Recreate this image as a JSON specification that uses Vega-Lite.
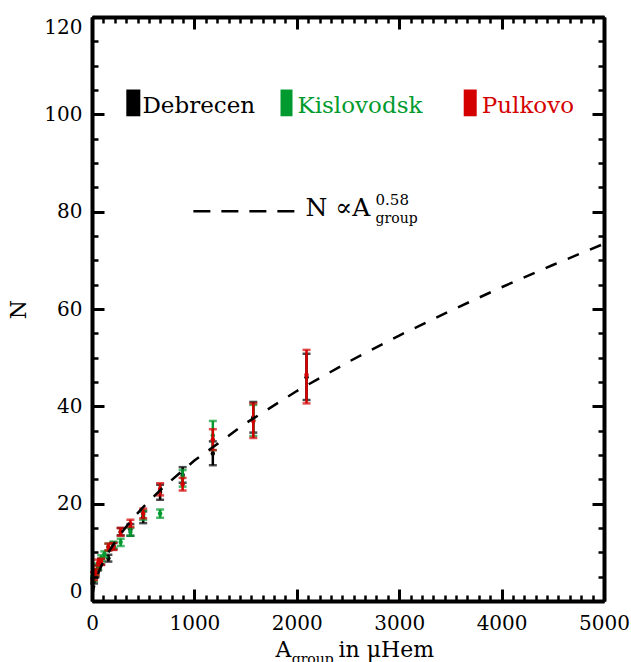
{
  "$schema": "https://vega.github.io/schema/vega-lite/v6.json",
  "width": 512,
  "height": 584,
  "autosize": {"type": "none"},
  "padding": {"left": 92, "top": 17, "right": 27, "bottom": 61},
  "background": "white",
  "config": {"view": {"stroke": null}, "font": "DejaVu Serif"},
  "datasets": {
    "obs": [
      {"station": "Debrecen", "A": 20, "N": 4.1, "lo": 3.6, "hi": 4.7},
      {"station": "Debrecen", "A": 35, "N": 5.5, "lo": 4.9, "hi": 6.1},
      {"station": "Debrecen", "A": 60, "N": 6.8, "lo": 6.3, "hi": 7.4},
      {"station": "Debrecen", "A": 90, "N": 8.1, "lo": 7.5, "hi": 8.7},
      {"station": "Debrecen", "A": 160, "N": 8.8, "lo": 8.1, "hi": 9.5},
      {"station": "Debrecen", "A": 210, "N": 11.3, "lo": 10.6, "hi": 12.0},
      {"station": "Debrecen", "A": 280, "N": 14.2, "lo": 13.5, "hi": 15.0},
      {"station": "Debrecen", "A": 375, "N": 14.7, "lo": 13.4, "hi": 15.8},
      {"station": "Debrecen", "A": 500, "N": 17.2, "lo": 16.0, "hi": 18.4},
      {"station": "Debrecen", "A": 665, "N": 22.4, "lo": 20.8, "hi": 23.9},
      {"station": "Debrecen", "A": 885, "N": 25.9, "lo": 24.3, "hi": 27.5},
      {"station": "Debrecen", "A": 1180, "N": 30.3, "lo": 27.9, "hi": 32.8},
      {"station": "Debrecen", "A": 1575, "N": 37.7, "lo": 34.6, "hi": 40.9},
      {"station": "Debrecen", "A": 2095, "N": 46.0, "lo": 41.3, "hi": 50.8},
      {"station": "Kislovodsk", "A": 20, "N": 4.6, "lo": 4.1, "hi": 5.1},
      {"station": "Kislovodsk", "A": 35, "N": 5.9, "lo": 5.4, "hi": 6.5},
      {"station": "Kislovodsk", "A": 60, "N": 7.1, "lo": 6.5, "hi": 7.7},
      {"station": "Kislovodsk", "A": 90, "N": 8.8, "lo": 8.2, "hi": 9.4},
      {"station": "Kislovodsk", "A": 120, "N": 9.6, "lo": 9.0, "hi": 10.2},
      {"station": "Kislovodsk", "A": 160, "N": 11.1, "lo": 10.4, "hi": 11.8},
      {"station": "Kislovodsk", "A": 210, "N": 11.5, "lo": 10.9, "hi": 12.2},
      {"station": "Kislovodsk", "A": 280, "N": 12.1, "lo": 11.3, "hi": 12.8},
      {"station": "Kislovodsk", "A": 375, "N": 14.2, "lo": 13.4, "hi": 15.0},
      {"station": "Kislovodsk", "A": 500, "N": 17.7, "lo": 16.7, "hi": 18.6},
      {"station": "Kislovodsk", "A": 665, "N": 18.0, "lo": 17.1, "hi": 18.8},
      {"station": "Kislovodsk", "A": 885, "N": 25.3, "lo": 23.5, "hi": 26.9},
      {"station": "Kislovodsk", "A": 1180, "N": 34.0, "lo": 31.0, "hi": 37.0},
      {"station": "Kislovodsk", "A": 1575, "N": 37.1, "lo": 33.9, "hi": 40.3},
      {"station": "Pulkovo", "A": 20, "N": 5.1, "lo": 4.3, "hi": 5.9},
      {"station": "Pulkovo", "A": 35, "N": 5.9, "lo": 5.3, "hi": 6.6},
      {"station": "Pulkovo", "A": 60, "N": 7.8, "lo": 7.2, "hi": 8.5},
      {"station": "Pulkovo", "A": 90, "N": 8.1, "lo": 7.4, "hi": 8.7},
      {"station": "Pulkovo", "A": 160, "N": 11.1, "lo": 10.4, "hi": 11.8},
      {"station": "Pulkovo", "A": 210, "N": 11.2, "lo": 10.5, "hi": 11.9},
      {"station": "Pulkovo", "A": 280, "N": 14.2, "lo": 13.4, "hi": 15.0},
      {"station": "Pulkovo", "A": 375, "N": 15.9, "lo": 15.2, "hi": 16.7},
      {"station": "Pulkovo", "A": 500, "N": 18.0, "lo": 17.0, "hi": 19.0},
      {"station": "Pulkovo", "A": 665, "N": 23.0, "lo": 21.7, "hi": 24.2},
      {"station": "Pulkovo", "A": 885, "N": 24.0, "lo": 22.7, "hi": 25.3},
      {"station": "Pulkovo", "A": 1180, "N": 33.2, "lo": 31.0, "hi": 35.3},
      {"station": "Pulkovo", "A": 1575, "N": 37.0, "lo": 33.5, "hi": 40.6},
      {"station": "Pulkovo", "A": 2095, "N": 46.5, "lo": 40.6, "hi": 51.6}
    ],
    "fit": [
      {"A": 2, "N": 0.785}, {"A": 5, "N": 1.335}, {"A": 10, "N": 1.996},
      {"A": 20, "N": 2.984}, {"A": 35, "N": 4.128}, {"A": 50, "N": 5.077},
      {"A": 75, "N": 6.42}, {"A": 100, "N": 7.586}, {"A": 150, "N": 9.6},
      {"A": 200, "N": 11.34}, {"A": 300, "N": 14.35}, {"A": 400, "N": 16.96},
      {"A": 500, "N": 19.31}, {"A": 700, "N": 23.46}, {"A": 1000, "N": 28.85},
      {"A": 1500, "N": 36.5}, {"A": 2000, "N": 43.14}, {"A": 2500, "N": 49.09},
      {"A": 3000, "N": 54.55}, {"A": 3500, "N": 59.64}, {"A": 4000, "N": 64.47},
      {"A": 4500, "N": 69.04}, {"A": 5000, "N": 73.4}
    ],
    "one": [{}]
  },
  "data": {"name": "obs"},
  "resolve": {"axis": {"x": "independent", "y": "independent"}},
  "layer": [
    {
      "transform": [{"filter": "datum.station === 'Debrecen'"}],
      "mark": {"type": "rule", "color": "black", "strokeWidth": 2.5},
      "encoding": {
        "x": {"field": "A", "type": "quantitative", "scale": {"domain": [0, 5000], "nice": false, "zero": false},
          "axis": {"orient": "bottom", "values": [0, 1000, 2000, 3000, 4000, 5000], "format": "d", "tickSize": -12, "tickWidth": 3, "tickColor": "black", "domain": true, "domainWidth": 4, "domainColor": "black", "labelFont": "DejaVu Serif", "labelFontSize": 20, "labelColor": "black", "labelPadding": 24, "labelFlush": false, "labelOverlap": false, "grid": false, "title": null, "zindex": 1}},
        "y": {"field": "lo", "type": "quantitative", "scale": {"domain": [0, 120], "nice": false, "zero": false},
          "axis": {"orient": "left", "values": [0, 20, 40, 60, 80, 100, 120], "format": "d", "tickSize": -12, "tickWidth": 3, "tickColor": "black", "domain": true, "domainWidth": 4, "domainColor": "black", "labelFont": "DejaVu Serif", "labelFontSize": 20, "labelColor": "black", "labelPadding": 22, "labelFlush": true, "labelOverlap": false, "grid": false, "title": "N", "titleFont": "DejaVu Serif", "titleFontSize": 22, "titleFontWeight": "normal", "titleColor": "black", "titlePadding": 13, "zindex": 1}},
        "y2": {"field": "hi"}
      }
    },
    {
      "transform": [{"filter": "datum.station === 'Debrecen'"}, {"fold": ["lo", "hi"], "as": ["end", "v"]}],
      "mark": {"type": "tick", "orient": "horizontal", "color": "black", "size": 8, "thickness": 2.5},
      "encoding": {
        "x": {"field": "A", "type": "quantitative", "scale": {"domain": [0, 5000], "nice": false, "zero": false},
          "axis": {"orient": "bottom", "values": [0, 111.11, 222.22, 333.33, 444.44, 555.56, 666.67, 777.78, 888.89, 1000, 1111.11, 1222.22, 1333.33, 1444.44, 1555.56, 1666.67, 1777.78, 1888.89, 2000, 2111.11, 2222.22, 2333.33, 2444.44, 2555.56, 2666.67, 2777.78, 2888.89, 3000, 3111.11, 3222.22, 3333.33, 3444.44, 3555.56, 3666.67, 3777.78, 3888.89, 4000, 4111.11, 4222.22, 4333.33, 4444.44, 4555.56, 4666.67, 4777.78, 4888.89, 5000], "tickSize": -6, "tickWidth": 2.5, "tickColor": "black", "domain": false, "labels": false, "grid": false, "title": null, "zindex": 1}},
        "y": {"field": "v", "type": "quantitative", "scale": {"domain": [0, 120], "nice": false, "zero": false},
          "axis": {"orient": "left", "values": [0, 5, 10, 15, 20, 25, 30, 35, 40, 45, 50, 55, 60, 65, 70, 75, 80, 85, 90, 95, 100, 105, 110, 115, 120], "tickSize": -6, "tickWidth": 2.5, "tickColor": "black", "domain": false, "labels": false, "grid": false, "title": null, "zindex": 1}}
      }
    },
    {
      "transform": [{"filter": "datum.station === 'Debrecen'"}],
      "mark": {"type": "circle", "color": "black", "size": 20, "opacity": 1},
      "encoding": {
        "x": {"field": "A", "type": "quantitative", "scale": {"domain": [0, 5000], "nice": false, "zero": false},
          "axis": {"orient": "top", "values": [0, 1000, 2000, 3000, 4000, 5000], "tickSize": -12, "tickWidth": 3, "tickColor": "black", "domain": true, "domainWidth": 4, "domainColor": "black", "labels": false, "grid": false, "title": null, "zindex": 1}},
        "y": {"field": "N", "type": "quantitative", "scale": {"domain": [0, 120], "nice": false, "zero": false},
          "axis": {"orient": "right", "values": [0, 20, 40, 60, 80, 100, 120], "tickSize": -12, "tickWidth": 3, "tickColor": "black", "domain": true, "domainWidth": 4, "domainColor": "black", "labels": false, "grid": false, "title": null, "zindex": 1}}
      }
    },
    {
      "transform": [{"filter": "datum.station === 'Kislovodsk'"}],
      "mark": {"type": "rule", "color": "#009a2e", "strokeWidth": 2.5},
      "encoding": {
        "x": {"field": "A", "type": "quantitative", "scale": {"domain": [0, 5000], "nice": false, "zero": false},
          "axis": {"orient": "top", "values": [0, 111.11, 222.22, 333.33, 444.44, 555.56, 666.67, 777.78, 888.89, 1000, 1111.11, 1222.22, 1333.33, 1444.44, 1555.56, 1666.67, 1777.78, 1888.89, 2000, 2111.11, 2222.22, 2333.33, 2444.44, 2555.56, 2666.67, 2777.78, 2888.89, 3000, 3111.11, 3222.22, 3333.33, 3444.44, 3555.56, 3666.67, 3777.78, 3888.89, 4000, 4111.11, 4222.22, 4333.33, 4444.44, 4555.56, 4666.67, 4777.78, 4888.89, 5000], "tickSize": -6, "tickWidth": 2.5, "tickColor": "black", "domain": false, "labels": false, "grid": false, "title": null, "zindex": 1}},
        "y": {"field": "lo", "type": "quantitative", "scale": {"domain": [0, 120], "nice": false, "zero": false},
          "axis": {"orient": "right", "values": [0, 5, 10, 15, 20, 25, 30, 35, 40, 45, 50, 55, 60, 65, 70, 75, 80, 85, 90, 95, 100, 105, 110, 115, 120], "tickSize": -6, "tickWidth": 2.5, "tickColor": "black", "domain": false, "labels": false, "grid": false, "title": null, "zindex": 1}},
        "y2": {"field": "hi"}
      }
    },
    {
      "transform": [{"filter": "datum.station === 'Kislovodsk'"}, {"fold": ["lo", "hi"], "as": ["end", "v"]}],
      "mark": {"type": "tick", "orient": "horizontal", "color": "#009a2e", "size": 8, "thickness": 2.5},
      "encoding": {
        "x": {"field": "A", "type": "quantitative", "scale": {"domain": [0, 5000], "nice": false, "zero": false}, "axis": null},
        "y": {"field": "v", "type": "quantitative", "scale": {"domain": [0, 120], "nice": false, "zero": false}, "axis": null}
      }
    },
    {
      "transform": [{"filter": "datum.station === 'Kislovodsk'"}],
      "mark": {"type": "circle", "color": "#009a2e", "size": 20, "opacity": 1},
      "encoding": {
        "x": {"field": "A", "type": "quantitative", "scale": {"domain": [0, 5000], "nice": false, "zero": false}, "axis": null},
        "y": {"field": "N", "type": "quantitative", "scale": {"domain": [0, 120], "nice": false, "zero": false}, "axis": null}
      }
    },
    {
      "transform": [{"filter": "datum.station === 'Pulkovo'"}],
      "mark": {"type": "rule", "color": "#d40000", "strokeWidth": 2.5},
      "encoding": {
        "x": {"field": "A", "type": "quantitative", "scale": {"domain": [0, 5000], "nice": false, "zero": false}, "axis": null},
        "y": {"field": "lo", "type": "quantitative", "scale": {"domain": [0, 120], "nice": false, "zero": false}, "axis": null},
        "y2": {"field": "hi"}
      }
    },
    {
      "transform": [{"filter": "datum.station === 'Pulkovo'"}, {"fold": ["lo", "hi"], "as": ["end", "v"]}],
      "mark": {"type": "tick", "orient": "horizontal", "color": "#d40000", "size": 8, "thickness": 2.5},
      "encoding": {
        "x": {"field": "A", "type": "quantitative", "scale": {"domain": [0, 5000], "nice": false, "zero": false}, "axis": null},
        "y": {"field": "v", "type": "quantitative", "scale": {"domain": [0, 120], "nice": false, "zero": false}, "axis": null}
      }
    },
    {
      "transform": [{"filter": "datum.station === 'Pulkovo'"}],
      "mark": {"type": "circle", "color": "#d40000", "size": 20, "opacity": 1},
      "encoding": {
        "x": {"field": "A", "type": "quantitative", "scale": {"domain": [0, 5000], "nice": false, "zero": false}, "axis": null},
        "y": {"field": "N", "type": "quantitative", "scale": {"domain": [0, 120], "nice": false, "zero": false}, "axis": null}
      }
    },
    {
      "data": {"name": "fit"},
      "mark": {"type": "line", "color": "black", "strokeWidth": 2.5, "strokeDash": [12, 12]},
      "encoding": {
        "x": {"field": "A", "type": "quantitative", "scale": {"domain": [0, 5000], "nice": false, "zero": false}, "axis": null},
        "y": {"field": "N", "type": "quantitative", "scale": {"domain": [0, 120], "nice": false, "zero": false}, "axis": null}
      }
    },
    {
      "data": {"name": "one"},
      "mark": {"type": "rule", "color": "black", "strokeWidth": 2.5, "strokeDash": [17, 11]},
      "encoding": {
        "x": {"datum": 990, "type": "quantitative", "scale": {"domain": [0, 5000], "nice": false, "zero": false}, "axis": null},
        "x2": {"datum": 1995},
        "y": {"datum": 80.1, "type": "quantitative", "scale": {"domain": [0, 120], "nice": false, "zero": false}, "axis": null}
      }
    },
    {
      "data": {"name": "one"},
      "mark": {"type": "rect", "color": "black"},
      "encoding": {
        "x": {"datum": 335, "type": "quantitative", "scale": {"domain": [0, 5000], "nice": false, "zero": false}, "axis": null},
        "x2": {"datum": 472},
        "y": {"datum": 99.6, "type": "quantitative", "scale": {"domain": [0, 120], "nice": false, "zero": false}, "axis": null},
        "y2": {"datum": 105.1}
      }
    },
    {
      "data": {"name": "one"},
      "mark": {"type": "rect", "color": "#009a2e"},
      "encoding": {
        "x": {"datum": 1841, "type": "quantitative", "scale": {"domain": [0, 5000], "nice": false, "zero": false}, "axis": null},
        "x2": {"datum": 1958},
        "y": {"datum": 99.6, "type": "quantitative", "scale": {"domain": [0, 120], "nice": false, "zero": false}, "axis": null},
        "y2": {"datum": 105.1}
      }
    },
    {
      "data": {"name": "one"},
      "mark": {"type": "rect", "color": "#d40000"},
      "encoding": {
        "x": {"datum": 3630, "type": "quantitative", "scale": {"domain": [0, 5000], "nice": false, "zero": false}, "axis": null},
        "x2": {"datum": 3757},
        "y": {"datum": 99.6, "type": "quantitative", "scale": {"domain": [0, 120], "nice": false, "zero": false}, "axis": null},
        "y2": {"datum": 105.1}
      }
    },
    {
      "data": {"name": "one"},
      "mark": {"type": "text", "text": "Debrecen", "color": "black", "font": "DejaVu Serif", "fontSize": 23, "align": "left", "baseline": "alphabetic"},
      "encoding": {
        "x": {"datum": 492, "type": "quantitative", "scale": {"domain": [0, 5000], "nice": false, "zero": false}, "axis": null},
        "y": {"datum": 100.2, "type": "quantitative", "scale": {"domain": [0, 120], "nice": false, "zero": false}, "axis": null}
      }
    },
    {
      "data": {"name": "one"},
      "mark": {"type": "text", "text": "Kislovodsk", "color": "#009a2e", "font": "DejaVu Serif", "fontSize": 23, "align": "left", "baseline": "alphabetic"},
      "encoding": {
        "x": {"datum": 2007, "type": "quantitative", "scale": {"domain": [0, 5000], "nice": false, "zero": false}, "axis": null},
        "y": {"datum": 100.2, "type": "quantitative", "scale": {"domain": [0, 120], "nice": false, "zero": false}, "axis": null}
      }
    },
    {
      "data": {"name": "one"},
      "mark": {"type": "text", "text": "Pulkovo", "color": "#d40000", "font": "DejaVu Serif", "fontSize": 23, "align": "left", "baseline": "alphabetic"},
      "encoding": {
        "x": {"datum": 3806, "type": "quantitative", "scale": {"domain": [0, 5000], "nice": false, "zero": false}, "axis": null},
        "y": {"datum": 100.2, "type": "quantitative", "scale": {"domain": [0, 120], "nice": false, "zero": false}, "axis": null}
      }
    },
    {
      "data": {"name": "one"},
      "mark": {"type": "text", "text": "N ∝A", "color": "black", "font": "DejaVu Serif, DejaVu Sans", "fontSize": 25, "align": "left", "baseline": "alphabetic"},
      "encoding": {
        "x": {"datum": 2085, "type": "quantitative", "scale": {"domain": [0, 5000], "nice": false, "zero": false}, "axis": null},
        "y": {"datum": 79.2, "type": "quantitative", "scale": {"domain": [0, 120], "nice": false, "zero": false}, "axis": null}
      }
    },
    {
      "data": {"name": "one"},
      "mark": {"type": "text", "text": "0.58", "color": "black", "font": "DejaVu Serif", "fontSize": 15, "align": "left", "baseline": "alphabetic"},
      "encoding": {
        "x": {"datum": 2769, "type": "quantitative", "scale": {"domain": [0, 5000], "nice": false, "zero": false}, "axis": null},
        "y": {"datum": 81.45, "type": "quantitative", "scale": {"domain": [0, 120], "nice": false, "zero": false}, "axis": null}
      }
    },
    {
      "data": {"name": "one"},
      "mark": {"type": "text", "text": "group", "color": "black", "font": "DejaVu Serif", "fontSize": 14, "align": "left", "baseline": "alphabetic"},
      "encoding": {
        "x": {"datum": 2769, "type": "quantitative", "scale": {"domain": [0, 5000], "nice": false, "zero": false}, "axis": null},
        "y": {"datum": 77.7, "type": "quantitative", "scale": {"domain": [0, 120], "nice": false, "zero": false}, "axis": null}
      }
    },
    {
      "data": {"name": "one"},
      "mark": {"type": "text", "text": "A", "color": "black", "font": "DejaVu Serif", "fontSize": 22, "align": "left", "baseline": "alphabetic"},
      "encoding": {
        "x": {"datum": 1793, "type": "quantitative", "scale": {"domain": [0, 5000], "nice": false, "zero": false}, "axis": null},
        "y": {"datum": -11.6, "type": "quantitative", "scale": {"domain": [0, 120], "nice": false, "zero": false}, "axis": null}
      }
    },
    {
      "data": {"name": "one"},
      "mark": {"type": "text", "text": "group", "color": "black", "font": "DejaVu Serif", "fontSize": 14, "align": "left", "baseline": "alphabetic"},
      "encoding": {
        "x": {"datum": 1950, "type": "quantitative", "scale": {"domain": [0, 5000], "nice": false, "zero": false}, "axis": null},
        "y": {"datum": -12.9, "type": "quantitative", "scale": {"domain": [0, 120], "nice": false, "zero": false}, "axis": null}
      }
    },
    {
      "data": {"name": "one"},
      "mark": {"type": "text", "text": "in μHem", "color": "black", "font": "DejaVu Serif", "fontSize": 22, "align": "left", "baseline": "alphabetic"},
      "encoding": {
        "x": {"datum": 2408, "type": "quantitative", "scale": {"domain": [0, 5000], "nice": false, "zero": false}, "axis": null},
        "y": {"datum": -11.6, "type": "quantitative", "scale": {"domain": [0, 120], "nice": false, "zero": false}, "axis": null}
      }
    }
  ]
}
